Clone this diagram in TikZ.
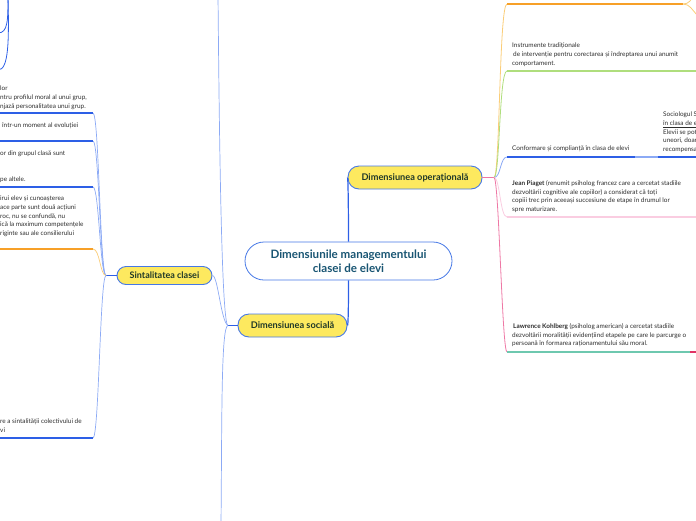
\documentclass[tikz,border=0pt]{standalone}
\usepackage{fontspec}
\setmainfont{Lato}
\usepackage{xcolor}
\usepackage{tikz}
\definecolor{mm_blue}{RGB}{45,95,230}
\definecolor{mm_lblue}{RGB}{140,170,245}
\definecolor{mm_border}{RGB}{70,120,230}
\definecolor{mm_yellow}{RGB}{253,233,95}
\definecolor{mm_orange}{RGB}{247,160,40}
\definecolor{mm_lorange}{RGB}{250,205,120}
\definecolor{mm_green}{RGB}{175,222,125}
\definecolor{mm_lpink}{RGB}{250,205,225}
\definecolor{mm_pink}{RGB}{238,120,165}
\definecolor{mm_teal}{RGB}{110,200,175}
\definecolor{mm_red}{RGB}{225,50,100}
\definecolor{mm_text}{RGB}{45,45,45}
\definecolor{mm_dark}{RGB}{30,55,40}
\definecolor{mm_tealtext}{RGB}{25,85,115}

\begin{document}
\begin{tikzpicture}[x=1pt,y=-1pt,
    root/.style={draw=mm_border, fill=white, line width=0.8pt, rounded corners=19pt,
                 minimum width=207pt, minimum height=38pt, align=center,
                 text=mm_tealtext, font=\fontsize{11.6}{14}\selectfont\bfseries},
    topic/.style={draw=mm_border, fill=mm_yellow, line width=0.9pt, rounded corners=11pt,
                  minimum height=23pt, text=mm_dark, font=\fontsize{9.2}{10}\selectfont\bfseries},
    txt/.style={anchor=north west, inner sep=0pt, align=left, text=mm_text,
                font=\fontsize{6.4}{8.6}\selectfont},
    mainln/.style={draw=mm_blue, line width=1.2pt},
    thinln/.style={draw=mm_lblue, line width=0.7pt},
    ul/.style={line width=1.4pt}]
  \useasboundingbox (0,0) rectangle (696,520);
  \clip (0,0) rectangle (696,520);

  % main nodes
  \node[root] (root) at (348.5,261) {Dimensiunile managementului\\clasei de elevi};
  \node[topic, minimum width=134pt] (oper) at (415,177.5) {Dimensiunea operațională};
  \node[topic, minimum width=109pt] (soc) at (292.5,325.5) {Dimensiunea socială};
  \node[topic, minimum width=95pt, minimum height=18pt, rounded corners=9pt,
        font=\fontsize{9}{10}\selectfont\bfseries] (sint) at (164.5,275.5) {Sintalitatea clasei};

  \draw[mainln] (root.north) .. controls (348.5,205) and (348,178) .. (oper.west);
  \draw[mainln] (root.south) .. controls (348.5,315) and (348,325.5) .. (soc.east);

  % social side
  \coordinate (socB) at (228,325.5);
  \coordinate (socT) at (218,-5);
  \coordinate (socD) at (221,525);
  \draw[mainln] (soc.west) -- (socB);
  \draw[thinln] (socB) .. controls (221,325.5) and (219,100) .. (socT);
  \draw[thinln] (socB) .. controls (221,325.5) and (222,420) .. (socD);
  \draw[thinln] (socB) .. controls (221,322) and (218,275.5) .. (sint.east);

  \coordinate (sintB) at (106,275.5);
  \draw[mainln] (sint.west) -- (sintB);
  \foreach \y/\n in {113/a,141/b,187/c,438/d}{
    \coordinate (l\n) at (93,\y);
    \coordinate (e\n) at (-3,\y);
    \draw[thinln] (sintB) .. controls (100,275.5) and (99,\y) .. (l\n);
    \draw[ul, mm_blue] (l\n) -- (e\n);
  }
  \coordinate (lo) at (93,249);
  \coordinate (eo) at (-3,249);
  \draw[draw=mm_lorange, line width=0.7pt] (sintB) .. controls (100,275.5) and (100,249) .. (lo);
  \draw[ul, mm_orange, line width=1.2pt] (lo) -- (eo);

  \coordinate (tl) at (8,-4);
  \coordinate (tlA) at (-2,33);
  \coordinate (tlB) at (-2,70);
  \draw[mm_blue, line width=0.8pt] (tl) .. controls (8,20) and (8,33) .. (tlA);
  \draw[mm_blue, line width=0.8pt] (tl) .. controls (9,40) and (9,70) .. (tlB);

  \node[txt] (sa) at (0,86) {lor\\ntru profilul moral al unui grup,\\njază personalitatea unui grup.};
  \node[txt] (sb) at (2,123) {într-un moment al evoluției};
  \node[txt] (sc) at (0,151) {or din grupul clasă sunt\\[17.2pt]pe altele.};
  \node[txt] (sd) at (0,196) {irui elev și cunoașterea\\ace parte sunt două acțiuni\\roc, nu se confundă, nu\\ică la maximum competențele\\riginte sau ale consilierului};
  \node[txt] (se) at (0,419) {re a sintalității colectivului de\\vi};

  % operational side
  \coordinate (operB) at (494,177.5);
  \draw[mm_pink, line width=1pt] (oper.east) -- (operB);
  \coordinate (ro) at (507,4);
  \coordinate (rg) at (507,71);
  \coordinate (rb) at (507,157);
  \coordinate (rp) at (507,217);
  \coordinate (rk) at (507,352);
  \draw[mm_lorange, line width=0.8pt] (operB) .. controls (500,177.5) and (499,4) .. (ro);
  \draw[mm_green, line width=0.8pt] (operB) .. controls (500,177.5) and (499,71) .. (rg);
  \draw[mm_lblue, line width=0.8pt] (operB) .. controls (501,177.5) and (500,157) .. (rb);
  \draw[mm_lpink, line width=0.8pt] (operB) .. controls (500,177.5) and (500,217) .. (rp);
  \draw[mm_pink, line width=0.8pt] (operB) .. controls (499,177.5) and (502,352) .. (rk);

  \coordinate (orB) at (683,4);
  \draw[ul, mm_orange, line width=1.2pt] (ro) -- (orB);
  \draw[mm_lorange, line width=0.8pt] (orB) .. controls (689,4) and (691,0) .. (694,-5);
  \draw[mm_lorange, line width=0.8pt] (orB) .. controls (690,4) and (692,10) .. (698,16);
  \draw[ul, mm_green, line width=1.2pt] (rg) -- (699,71);
  \coordinate (cb) at (635,157);
  \coordinate (sb) at (658,157);
  \draw[ul, mm_blue] (rb) -- (cb);
  \draw[mm_lblue, line width=1.2pt] (cb) -- (sb);
  \draw[ul, mm_blue] (sb) -- (699,157);
  \draw[mm_lpink, line width=1.1pt] (rp) -- (699,217);
  \coordinate (kb) at (690,352);
  \draw[ul, mm_teal, line width=1.3pt] (rk) -- (kb);
  \draw[mm_red, line width=1.3pt] (kb) -- (699,352);

  \node[txt] (instr) at (512,43) {Instrumente tradiționale\\\hspace*{1pt}de intervenție pentru corectarea și îndreptarea unui anumit\\comportament.};
  \node[txt] (conf) at (512,146) {Conformare și complianță în clasa de elevi};
  \node[txt] (socio) at (663,112) {Sociologul S\\\underline{în clasa de e}\\Elevii se pot\\uneori, doar\\recompensa};
  \node[txt] (piaget) at (512,180.5) {\textbf{Jean Piaget} (renumit psiholog francez care a cercetat stadiile\\dezvoltării cognitive ale copiilor) a considerat că toți\\copiii trec prin aceeași succesiune de etape în drumul lor\\spre maturizare.};
  \node[txt] (kohl) at (512,323.5) {\hspace*{1pt}\textbf{Lawrence Kohlberg} (psiholog american) a cercetat stadiile\\dezvoltării moralității evidențiind etapele pe care le parcurge o\\persoană în formarea raționamentului său moral.};
\end{tikzpicture}
\end{document}
